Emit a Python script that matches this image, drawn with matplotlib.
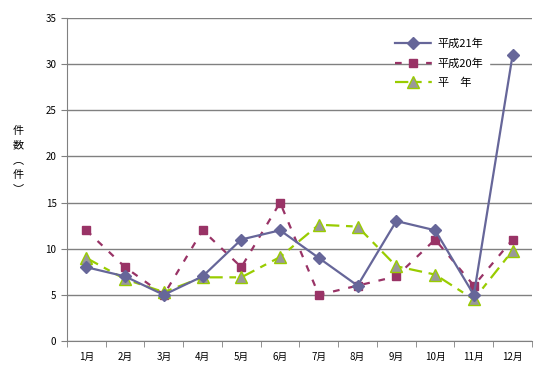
import matplotlib
matplotlib.use('Agg')
import matplotlib.pyplot as plt
import numpy as np

plt.rcParams['font.family'] = ['Noto Sans CJK JP', 'DejaVu Sans']

months = ['1月', '2月', '3月', '4月', '5月', '6月', '7月', '8月', '9月', '10月', '11月', '12月']
h21 = [8, 7, 5, 7, 11, 12, 9, 6, 13, 12, 5, 31]
h20 = [12, 8, 5, 12, 8, 15, 5, 6, 7, 11, 6, 11]
heinen = [9, 6.7, 5.3, 6.9, 6.9, 9.1, 12.6, 12.4, 8.1, 7.2, 4.5, 9.8]

fig = plt.figure(figsize=(5.53, 3.86), dpi=100)
ax = fig.add_axes([0.121, 0.1166, 0.841, 0.8366])

x = np.arange(len(months))
ax.plot(x, h21, color='#666699', lw=1.6, marker='D', ms=6, label='平成21年', zorder=4)
ax.plot(x, h20, color='#993366', lw=1.6, ls=(0, (3, 4)), marker='s', ms=5.5, label='平成20年', zorder=3)
ax.plot(x, heinen, color='#99CC00', lw=1.6, ls=(0, (6, 3, 3, 3)), marker='^', ms=8,
        mfc='#999999', mec='#99CC00', mew=1, label='平\u3000年', zorder=3)

ax.set_xlim(-0.5, 11.5)
ax.set_ylim(0, 35)
ax.set_yticks(range(0, 36, 5))
ax.set_xticks(x)
ax.set_xticklabels(months)
ax.set_xticks(np.arange(-0.5, 12, 1), minor=True)
ax.tick_params(axis='x', which='major', length=0, labelsize=7, pad=8)
ax.tick_params(axis='x', which='minor', length=4, direction='out', color='#808080')
ax.tick_params(axis='y', length=4, direction='out', labelsize=7, color='#808080')
ax.yaxis.grid(True, color='#808080', lw=1)
ax.set_axisbelow(True)
for s in ['top', 'right']:
    ax.spines[s].set_visible(False)
for s in ['left', 'bottom']:
    ax.spines[s].set_color('#808080')

fig.text(0.033, 0.585, '件\n数\n︵\n件\n︶', fontsize=8, ha='center', va='center', linespacing=1.55)

leg = ax.legend(loc='upper left', bbox_to_anchor=(0.695, 0.95), frameon=False, fontsize=8,
                handlelength=3.4, handletextpad=0.5, labelspacing=0.8, borderaxespad=0)
for t in leg.get_texts():
    t.set_backgroundcolor('white')

fig.savefig('out.png', dpi=100, facecolor='white')
